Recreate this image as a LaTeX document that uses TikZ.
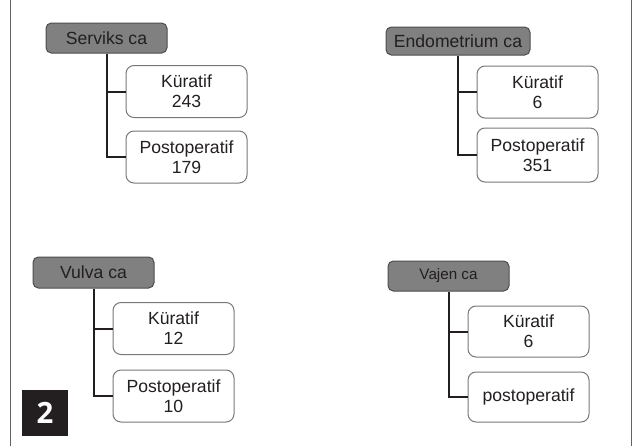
\documentclass[tikz,border=0pt]{standalone}
\usepackage{fontspec}
\setmainfont{Liberation Sans}
\newfontfamily\numfont{Open Sans}

\definecolor{inkdark}{RGB}{35,31,32}
\definecolor{headgray}{RGB}{128,128,128}
\definecolor{edgegray}{RGB}{120,120,120}

\tikzset{every picture/.style={line width=0.75pt}}
\tikzset{
  headbox/.style={draw=inkdark!80,fill=headgray,rounded corners=4pt,minimum width=90.75pt,minimum height=22.5pt,inner sep=0pt,text=inkdark,font=\fontsize{13.2}{15}\selectfont},
  leafbox/.style={draw=edgegray,fill=white,rounded corners=6pt,minimum width=90.75pt,minimum height=39pt,inner sep=0pt,align=center,text=inkdark,font=\fontsize{13.2}{15}\selectfont},
  branch/.style={draw=inkdark,line width=1.5pt},
}

\begin{document}
\begin{tikzpicture}[x=0.75pt,y=0.75pt,yscale=-1,xscale=1]
\useasboundingbox (0,0) rectangle (642,446);

% frame sides
\draw [color=inkdark!70] (10,0) -- (10,446);
\draw [color=inkdark!70] (631,0) -- (631,446);

% Serviks ca
\node [headbox] (serv) at (106.5,38) {Serviks ca};
\node [leafbox] (servk) at (186.5,91.5) {Küratif\\243};
\node [leafbox] (servp) at (186.5,157) {Postoperatif\\179};
\draw [branch] (serv.south) |- (servk.west);
\draw [branch] (serv.south) |- (servp.west);

% Endometrium ca
\node [headbox,minimum width=108pt,minimum height=21pt] (endo) at (458,41) {Endometrium ca};
\node [leafbox] (endok) at (537.5,92) {Küratif\\6};
\node [leafbox,minimum height=40.5pt] (endop) at (537.5,155) {Postoperatif\\351};
\draw [branch] (endo.south) |- (endok.west);
\draw [branch] (endo.south) |- (endop.west);

% Vulva ca
\node [headbox,minimum height=23.25pt] (vulv) at (93.5,272.5) {Vulva ca};
\node [leafbox] (vulvk) at (173.5,328.5) {Küratif\\12};
\node [leafbox] (vulvp) at (173.5,396) {Postoperatif\\10};
\draw [branch] (vulv.south) |- (vulvk.west);
\draw [branch] (vulv.south) |- (vulvp.west);

% Vajen ca
\node [headbox,font=\fontsize{11.4}{14}\selectfont] (vaj) at (448.5,276) {Vajen ca};
\node [leafbox,minimum height=38.25pt] (vajk) at (528.5,331.5) {Küratif\\6};
\node [leafbox,minimum height=37.5pt] (vajp) at (528.5,397) {postoperatif};
\draw [branch] (vaj.south) |- (vajk.west);
\draw [branch] (vaj.south) |- (vajp.west);

% figure number
\node [fill=inkdark,minimum size=34.5pt,inner sep=0pt,text=white,font=\numfont\bfseries\fontsize{22}{24}\selectfont] (fignum) at (45,413) {2};

\end{tikzpicture}
\end{document}
